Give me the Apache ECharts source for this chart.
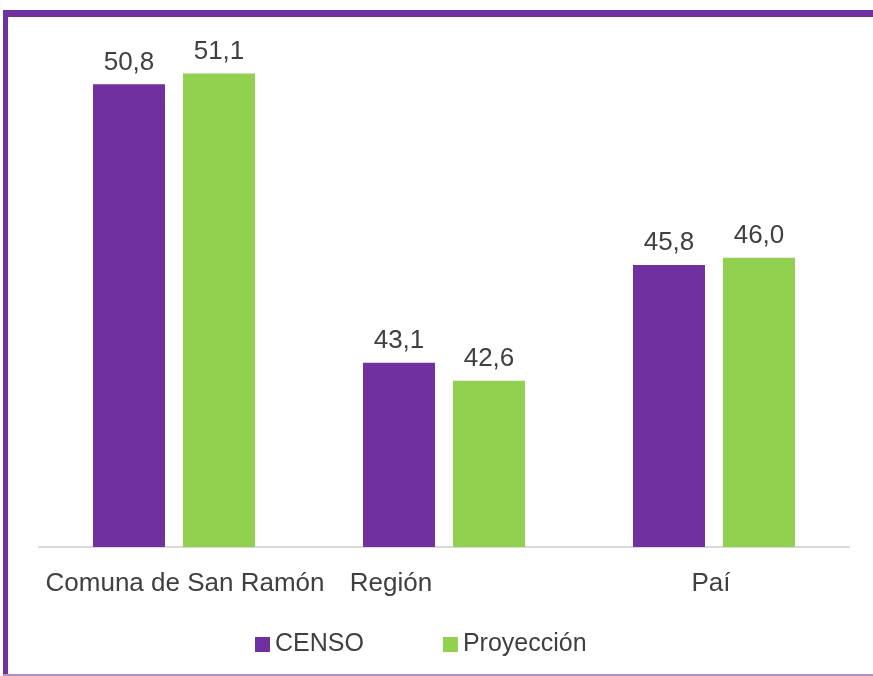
<!DOCTYPE html>
<html>
<head>
<meta charset="utf-8">
<script src="https://cdn.jsdelivr.net/npm/echarts@6/dist/echarts.min.js"></script>
<style>
html,body{margin:0;padding:0;background:#ffffff;}
#chart{width:873px;height:676px;}
</style>
</head>
<body>
<div id="chart"></div>
<script>
const categories = ["Comuna de San Ramón", "Región", "Paí"];
const seriesNames = ["CENSO", "Proyección"];
const censoValues = [50.8, 43.1, 45.8];
const proyeccionValues = [51.1, 42.6, 46.0];

const FONT = "Liberation Sans";
const chart = echarts.init(document.getElementById('chart'));
const fmt = p => p.value.toFixed(1).replace('.', ',');

chart.setOption({
  backgroundColor: '#ffffff',
  animation: false,
  graphic: [
    {type: 'rect', shape: {x: 3, y: 10, width: 870, height: 7}, style: {fill: '#7030a0'}, z: 10},
    {type: 'rect', shape: {x: 3, y: 10, width: 5, height: 666}, style: {fill: '#7030a0'}, z: 10},
    {type: 'rect', shape: {x: 3, y: 674, width: 870, height: 2}, style: {fill: '#b48fcf'}, z: 10}
  ],
  grid: {left: 39, right: 24, top: 41, bottom: 129, containLabel: false},
  legend: {
    data: seriesNames,
    left: 250,
    top: 627,
    itemWidth: 15,
    itemHeight: 15,
    itemGap: 79,
    icon: 'rect',
    textStyle: {fontFamily: FONT, fontSize: 25, color: '#404040'}
  },
  xAxis: {
    type: 'category',
    data: categories,
    axisLine: {lineStyle: {color: '#d9d9d9', width: 2}},
    axisTick: {show: false},
    axisLabel: {
      margin: 24,
      interval: 0,
      fontFamily: FONT,
      fontSize: 26,
      color: '#404040',
      formatter: (v, i) => i === 0 ? '{a|' + v + '}' : (i === 1 ? '{b|' + v + '}' : '{c|' + v + '}'),
      rich: {
        a: {fontFamily: FONT, fontSize: 26, color: '#404040', padding: [0, 0, 0, 22]},
        b: {fontFamily: FONT, fontSize: 26, color: '#404040', padding: [0, 106, 0, 0]},
        c: {fontFamily: FONT, fontSize: 26, color: '#404040', padding: [0, 6, 0, 0]}
      }
    }
  },
  yAxis: {
    type: 'value',
    min: 38,
    max: 52,
    show: false,
    splitLine: {show: false}
  },
  series: [
    {
      name: seriesNames[0],
      type: 'bar',
      data: censoValues,
      barWidth: 72,
      barGap: '25%',
      itemStyle: {color: '#7030a0'},
      label: {show: true, position: 'top', distance: 9, formatter: fmt,
        fontFamily: FONT, fontSize: 26, color: '#404040'}
    },
    {
      name: seriesNames[1],
      type: 'bar',
      data: proyeccionValues,
      barWidth: 72,
      barGap: '25%',
      itemStyle: {color: '#92d050'},
      label: {show: true, position: 'top', distance: 9, formatter: fmt,
        fontFamily: FONT, fontSize: 26, color: '#404040'}
    }
  ]
});
</script>
</body>
</html>
